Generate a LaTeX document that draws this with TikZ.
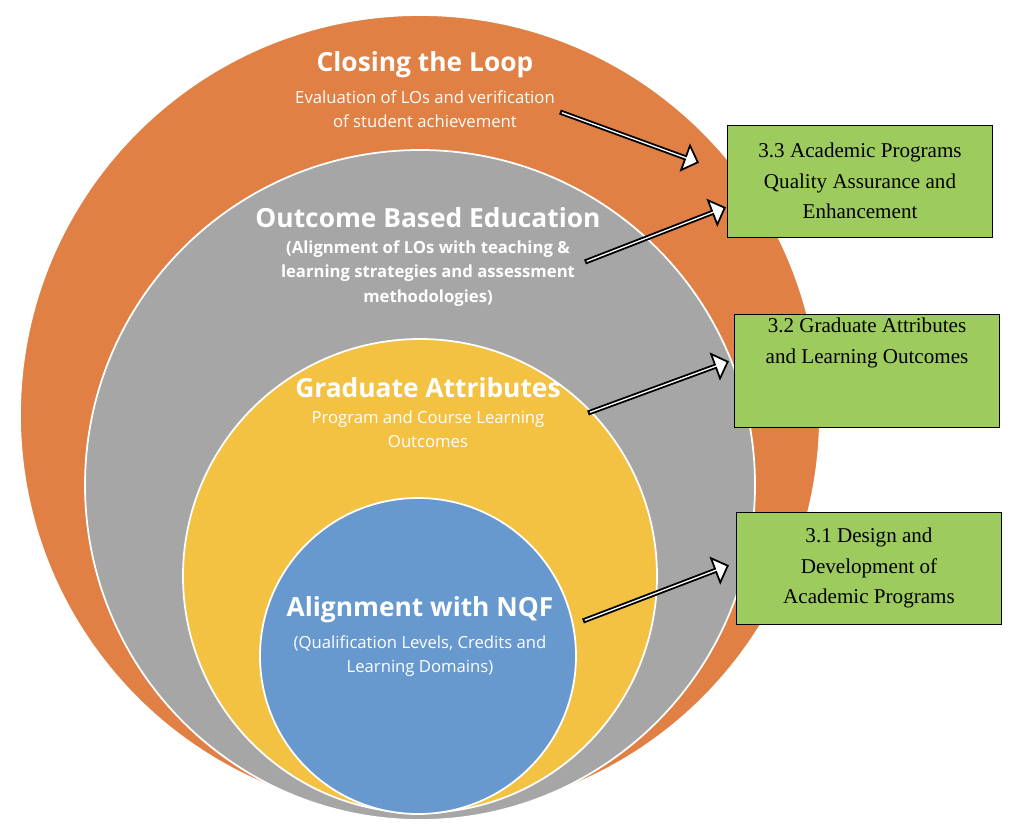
\documentclass[tikz,border=0pt]{standalone}
\usepackage{fontspec}
\setmainfont{Liberation Serif}
\newfontfamily\osans{Open Sans}
\usetikzlibrary{positioning,calc,shapes.arrows}
\definecolor{loopc}{RGB}{224,128,68}
\definecolor{obec}{RGB}{166,166,166}
\definecolor{gradc}{RGB}{243,194,66}
\definecolor{nqfc}{RGB}{104,153,206}
\definecolor{boxc}{RGB}{158,203,94}
\begin{document}
\begin{tikzpicture}[
    x = 0.02cm,
    y = -0.02cm,
    ring/.style = {circle, draw=white, line width=1pt, inner sep=0pt},
    title/.style = {font=\osans\bfseries\fontsize{15}{18}\selectfont, text=white},
    sub/.style = {font=\osans\fontsize{9.5}{14}\selectfont, text=white, align=center},
    subb/.style = {font=\osans\bfseries\fontsize{9.5}{14}\selectfont, text=white, align=center},
    stdbox/.style = {draw=black, fill=boxc, minimum width=265*0.02cm,
              minimum height=112*0.02cm, align=center, inner sep=2pt,
              font=\fontsize{12}{17.5}\selectfont},
    ]

\useasboundingbox (0,0) rectangle (1023,825);

% nested circles
\node[ring, fill=loopc, minimum size=800*0.02cm] (loop) at (420,415){};
\node[ring, fill=obec, minimum size=670*0.02cm] (obe) at (420,485){};
\node[ring, fill=gradc, minimum size=474*0.02cm] (grad) at (420,576){};
\node[ring, fill=nqfc, minimum size=316*0.02cm] (nqf) at (418,656){};

% texts
\node[title] (loop_t) at (425,65){Closing the Loop};
\node[sub, below=0pt of loop_t] (loop_s){Evaluation of LOs and verification\\of student achievement};
\node[title] (obe_t) at (428,218){Outcome Based Education};
\node[subb, below=0pt of obe_t] (obe_s){(Alignment of LOs with teaching \&\\learning strategies and assessment\\methodologies)};
\node[title] (grad_t) at (428,388){Graduate Attributes};
\node[sub, below=0pt of grad_t] (grad_s){Program and Course Learning\\Outcomes};
\node[title] (nqf_t) at (420,610){Alignment with NQF};
\node[sub, below=0pt of nqf_t] (nqf_s){(Qualification Levels, Credits and\\Learning Domains)};

% standards
\node[stdbox] (std3) at (860,181){3.3 Academic Programs\\Quality Assurance and\\Enhancement};
\node[stdbox] (std2) at (867,371){3.2 Graduate Attributes\\and Learning Outcomes\\[17pt]};
\node[stdbox] (std1) at (869,568){3.1 Design and\\Development of\\Academic Programs};

% arrows
\coordinate (a1s) at (560,112);
\coordinate (a1e) at (697,162);
\coordinate (a2s) at (585,262);
\coordinate (a2e) at (724,208);
\coordinate (a3s) at (588,413);
\coordinate (a3e) at (727,362);
\coordinate (a4s) at (583,621);
\coordinate (a4e) at (727,566);
\foreach \s/\e in {a1s/a1e, a2s/a2e, a3s/a3e, a4s/a4e}
  \path let \p1 = ($(\e)-(\s)$), \n1 = {veclen(\x1,\y1)} in
    (\s) -- (\e) node[midway, sloped, single arrow, draw=black, fill=white,
      line width=1pt, inner sep=0pt, minimum height=\n1,
      minimum width=0.52cm, single arrow head extend=0.12cm]{};

\end{tikzpicture}
\end{document}
